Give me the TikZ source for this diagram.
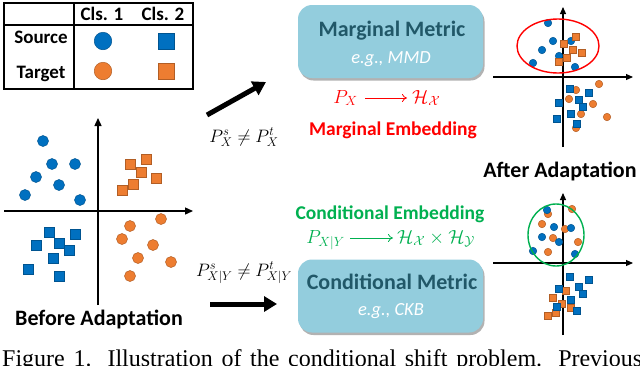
\documentclass[tikz,border=0pt]{standalone}
\usepackage{fix-cm}
\usepackage{fontspec}
\setsansfont{Carlito}
\newfontfamily\capfont{Liberation Serif}
\usetikzlibrary{arrows.meta,calc,positioning,shadows}

\definecolor{srcblue}{HTML}{0070C0}
\definecolor{tgtorange}{HTML}{ED7D31}
\definecolor{boxblue}{HTML}{93CDDD}
\definecolor{boxtext}{HTML}{215868}
\definecolor{embgreen}{HTML}{00B050}

\begin{document}
\begin{tikzpicture}[
  x=1pt, y=-1pt,
  font=\sffamily,
  axis/.style={line width=1.4pt, -{Triangle[length=8pt,width=7pt]}},
  thinaxis/.style={line width=1.1pt, -{Triangle[length=7pt,width=6pt]}},
  bigarrow/.style={line width=5pt, -{Triangle[length=13pt,width=15pt]}},
  maparrow/.style={line width=0.8pt, -{To[length=5pt,width=8pt]}},
  srcdot/.style={circle, fill=srcblue, draw=srcblue!75!black, line width=0.5pt, inner sep=0pt, minimum size=11pt},
  tgtdot/.style={circle, fill=tgtorange, draw=tgtorange!75!black, line width=0.5pt, inner sep=0pt, minimum size=11pt},
  srcsq/.style={rectangle, fill=srcblue, draw=srcblue!75!black, line width=0.5pt, inner sep=0pt, minimum size=10.5pt},
  tgtsq/.style={rectangle, fill=tgtorange, draw=tgtorange!75!black, line width=0.5pt, inner sep=0pt, minimum size=10.5pt},
  mini/.style={minimum size=7.5pt},
  tablemark/.style={minimum size=17.5pt},
  celltext/.style={font=\sffamily\bfseries\fontsize{19}{23}\selectfont, anchor=base, inner sep=0pt},
  plottitle/.style={font=\sffamily\bfseries\fontsize{22}{26}\selectfont, anchor=base, inner sep=0pt},
  metricbox/.style={fill=boxblue, draw=none, rounded corners=14pt, minimum width=185pt, minimum height=73pt,
    drop shadow={shadow xshift=1.5pt, shadow yshift=-2.5pt, fill=black, opacity=0.3}},
  metrictitle/.style={font=\sffamily\bfseries\fontsize{22}{26}\selectfont, text=boxtext, anchor=base, inner sep=0pt},
  metricex/.style={font=\sffamily\itshape\fontsize{18.5}{22}\selectfont, text=white, anchor=base, inner sep=0pt},
  embtitle/.style={font=\sffamily\bfseries\fontsize{19.5}{23}\selectfont, anchor=base, inner sep=0pt},
  mathlabel/.style={font=\fontsize{19}{23}\selectfont, inner sep=0pt},
  shiftlabel/.style={font=\fontsize{18}{22}\selectfont, anchor=base, inner sep=0pt}
]
\useasboundingbox (0,0) rectangle (640,365);

% ---------- legend table ----------
\draw[line width=1.2pt] (4,3) rectangle (193,89);
\draw[line width=1.2pt] (4,25) -- (193,25);
\draw[line width=1.2pt] (74,3) -- (74,89);
\node[celltext] (cls1) at (102,20) {Cls. 1};
\node[celltext] (cls2) at (163,20) {Cls. 2};
\node[celltext] (src) at (41,43) {Source};
\node[celltext] (tgt) at (41,78) {Target};
\node[srcdot, tablemark] (srcA) at (103,41) {};
\node[srcsq, tablemark, minimum size=16.5pt] (srcB) at (166,41) {};
\node[tgtdot, tablemark] (tgtA) at (103,71) {};
\node[tgtsq, tablemark, minimum size=16.5pt] (tgtB) at (166,71) {};

% ---------- before adaptation ----------
\draw[axis] (98,305) -- (98,118);
\draw[axis] (4,211) -- (193,211);
\foreach \p [count=\i] in {(43,141),(52,164),(75,164),(36,177),(59,185),(25,195),(80,200)}
  \node[srcdot] (bsd\i) at \p {};
\foreach \p [count=\i] in {(130,164),(146,159),(141,172),(156,178),(133,184),(122,190)}
  \node[tgtsq] (btq\i) at \p {};
\foreach \p [count=\i] in {(161,219),(130,226),(122,239),(153,245),(138,258),(171,262),(130,276)}
  \node[tgtdot] (btd\i) at \p {};
\foreach \p [count=\i] in {(49,232),(75,234),(36,245),(59,243),(69,250),(53,258),(28,269),(59,276)}
  \node[srcsq] (bsq\i) at \p {};
\node[plottitle] (before) at (99,325) {Before Adaptation};

% ---------- shift arrows ----------
\coordinate (margtail) at (207,115);
\coordinate (margtip) at (266,82);
\draw[bigarrow] (margtail) -- (margtip);
\node[shiftlabel] (margshift) at (244,142) {$P_X^s \neq P_X^t$};

\coordinate (condtail) at (210,304);
\coordinate (condtip) at (277,304);
\draw[bigarrow] (condtail) -- (condtip);
\node[shiftlabel] (condshift) at (244,276) {$P_{X|Y}^s \neq P_{X|Y}^t$};

% ---------- marginal metric ----------
\node[metricbox] (margbox) at (390.5,41.5) {};
\node[metrictitle] (margtitle) at (392,36) {Marginal Metric};
\node[metricex] (margex) at (391,63) {e.g., MMD};

\node[mathlabel, text=red, anchor=base east] (px) at (358,103) {$P_X$};
\node[mathlabel, text=red, anchor=base west] (hx) at (412,103) {$\mathcal{H}_{\mathcal{X}}$};
\draw[maparrow, red] ([shift={(7pt,5pt)}]px.base east) -- ([shift={(-5pt,5pt)}]hx.base west);
\node[embtitle, text=red] (margemb) at (393,135) {Marginal Embedding};

% ---------- conditional metric ----------
\node[embtitle, text=embgreen] (condemb) at (390,219) {Conditional Embedding};
\node[mathlabel, text=embgreen, anchor=base east] (pxy) at (345,243) {$P_{X|Y}$};
\node[mathlabel, text=embgreen, anchor=base west] (hxy) at (397,243) {$\mathcal{H}_{\mathcal{X}}\times\mathcal{H}_{\mathcal{Y}}$};
\draw[maparrow, embgreen] ([shift={(5pt,5pt)}]pxy.base east) -- ([shift={(-4pt,5pt)}]hxy.base west);

\node[metricbox] (condbox) at (390.5,296) {};
\node[metrictitle] (condtitle) at (392,289) {Conditional Metric};
\node[metricex] (condex) at (391,315) {e.g., CKB};

% ---------- after adaptation (marginal) ----------
\draw[thinaxis] (563,147) -- (563,7);
\draw[thinaxis] (493,77) -- (633,77);
\foreach \p [count=\i] in {(548,23),(553,41),(542,50),(571,41),(559,56),(533,63),(575,67)}
  \node[srcdot, mini] (msd\i) at \p {};
\foreach \p [count=\i] in {(576,37),(564,44),(573,50),(582,53),(567,58),(559,62)}
  \node[tgtsq, mini, minimum size=7pt] (mtq\i) at \p {};
\foreach \p [count=\i] in {(576,90),(599,84),(569,99),(593,104),(581,114),(607,117),(576,128)}
  \node[tgtdot, mini] (mtd\i) at \p {};
\foreach \p [count=\i] in {(570,89),(589,93),(559,103),(579,100),(583,107),(571,114),(557,119),(577,124)}
  \node[srcsq, mini, minimum size=7pt] (msq\i) at \p {};
\draw[red, line width=1.4pt] (558,46) ellipse [x radius=41, y radius=27];
\node[plottitle] (after) at (560,177) {After Adaptation};

% ---------- after adaptation (conditional) ----------
\draw[thinaxis] (563,335) -- (563,193);
\draw[thinaxis] (493,263) -- (633,263);
\foreach \p [count=\i] in {(548,214),(572,209),(542,224),(565,229),(553,238),(578,242),(548,252)}
  \node[tgtdot, mini] (ctd\i) at \p {};
\foreach \p [count=\i] in {(547,210),(554,227),(571,228),(542,237),(559,242),(533,251),(575,254)}
  \node[srcdot, mini] (csd\i) at \p {};
\foreach \p [count=\i] in {(566,291),(553,298),(562,304),(571,308),(548,316),(556,313)}
  \node[tgtsq, mini, minimum size=7pt] (ctq\i) at \p {};
\foreach \p [count=\i] in {(570,277),(589,280),(559,289),(579,287),(583,294),(571,300),(557,307),(577,311)}
  \node[srcsq, mini, minimum size=7pt] (csq\i) at \p {};
\draw[embgreen, line width=1.4pt] (556,235) ellipse [x radius=28, y radius=31];

% ---------- caption (cut by the page) ----------
\node[anchor=base west, inner sep=0pt, font=\capfont\fontsize{24}{28}\selectfont] (caption) at (2,366.5)
  {\makebox[640pt][s]{Figure 1. Illustration of the conditional shift problem. Previous}};
\end{tikzpicture}
\end{document}
